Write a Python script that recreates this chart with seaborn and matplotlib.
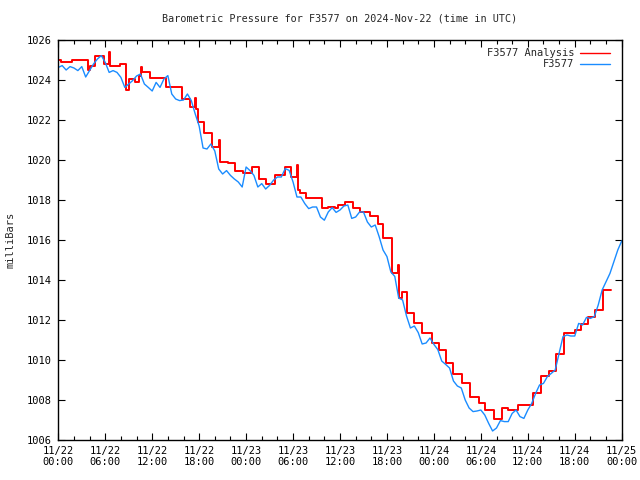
import matplotlib
matplotlib.use("Agg")
import matplotlib.pyplot as plt
import seaborn as sns
import pandas as pd
import numpy as np

# ---------------- data ----------------
title = "Barometric Pressure for F3577 on 2024-Nov-22 (time in UTC)"
ylabel = "milliBars"
obs_name = "F3577"
ana_name = "F3577 Analysis"

# observed pressure, every half hour from 11/22 00:00 (hours since start)
obs_hours = [h * 0.5 for h in range(145)]
obs_values = [
    1024.63, 1024.72, 1024.50, 1024.67, 1024.60, 1024.47, 1024.67, 1024.15, 1024.47, 1024.80,
    1025.05, 1025.22, 1024.88, 1024.38, 1024.47, 1024.38, 1024.13, 1023.63, 1023.80, 1023.97,
    1024.20, 1024.30, 1023.80, 1023.63, 1023.45, 1023.88, 1023.63, 1024.05, 1024.22, 1023.30,
    1023.05, 1022.97, 1023.00, 1023.30, 1022.97, 1022.30, 1021.70, 1020.60, 1020.55, 1020.80,
    1020.45, 1019.55, 1019.30, 1019.47, 1019.23, 1019.05, 1018.90, 1018.65, 1019.65, 1019.47,
    1019.23, 1018.65, 1018.82, 1018.55, 1018.73, 1018.99, 1019.15, 1019.15, 1019.57, 1019.48,
    1018.90, 1018.15, 1018.15, 1017.82, 1017.57, 1017.65, 1017.65, 1017.15, 1016.99, 1017.40,
    1017.62, 1017.38, 1017.50, 1017.70, 1017.75, 1017.08, 1017.15, 1017.40, 1017.40, 1016.90,
    1016.65, 1016.75, 1016.17, 1015.50, 1015.17, 1014.40, 1014.18, 1013.10, 1013.00, 1012.20,
    1011.60, 1011.70, 1011.37, 1010.80, 1010.85, 1011.10, 1010.78, 1010.52, 1009.95, 1009.78,
    1009.60, 1008.95, 1008.70, 1008.60, 1008.00, 1007.60, 1007.42, 1007.45, 1007.50, 1007.25,
    1006.83, 1006.45, 1006.60, 1006.97, 1006.92, 1006.92, 1007.33, 1007.50, 1007.17, 1007.08,
    1007.50, 1007.83, 1008.33, 1008.75, 1008.83, 1009.17, 1009.33, 1009.50, 1010.33, 1011.17,
    1011.25, 1011.20, 1011.20, 1011.83, 1011.75, 1012.13, 1012.08, 1012.17, 1012.75, 1013.50,
    1013.92, 1014.33, 1014.92, 1015.50, 1015.95,
]

# analysis (step series): hour at which each value starts
ana_hours = [
    0, 0.4, 1.7, 3.8, 4.0, 4.7, 5.8, 6.5, 6.6, 7.9, 8.7, 9.0, 9.8, 10.3, 10.6, 10.7,
    11.7, 13.7, 15.85, 16.8, 17.5, 17.6, 17.8, 18.6, 19.6, 20.6, 20.7, 21.7, 22.6, 23.6,
    24.8, 25.6, 26.6, 27.7, 28.95, 29.8, 30.5, 30.6, 30.9, 31.65, 33.65, 34.5, 35.4, 35.8,
    36.7, 37.7, 38.5, 39.8, 40.8, 41.5, 42.6, 43.4, 43.5, 43.9, 44.6, 45.5, 46.5, 47.7,
    48.6, 49.5, 50.5, 51.6, 52.6, 53.7, 54.5, 55.7, 56.7, 57.5, 58.8, 60.7, 61.7, 62.7,
    63.6, 64.6, 66.0, 66.8, 67.7, 68.6, 69.6, 70.6,
]
ana_values = [
    1025.00, 1024.90, 1025.00, 1024.50, 1024.72, 1025.22, 1024.80, 1025.39, 1024.68, 1024.80,
    1023.50, 1024.05, 1023.90, 1024.20, 1024.63, 1024.40, 1024.10, 1023.65, 1023.05, 1022.65,
    1023.10, 1022.55, 1021.92, 1021.33, 1020.63, 1021.00, 1019.92, 1019.87, 1019.47, 1019.37,
    1019.63, 1019.03, 1018.80, 1019.25, 1019.63, 1019.13, 1019.75, 1018.50, 1018.33, 1018.08,
    1017.58, 1017.65, 1017.58, 1017.75, 1017.92, 1017.58, 1017.42, 1017.20, 1016.80, 1016.08,
    1014.33, 1014.75, 1013.08, 1013.42, 1012.33, 1011.83, 1011.37, 1010.83, 1010.50, 1009.83,
    1009.30, 1008.87, 1008.13, 1007.83, 1007.50, 1007.03, 1007.58, 1007.50, 1007.75, 1008.37,
    1009.22, 1009.47, 1010.28, 1011.33, 1011.50, 1011.78, 1012.13, 1012.50, 1013.50, 1013.50,
]

xtick_hours = [0, 6, 12, 18, 24, 30, 36, 42, 48, 54, 60, 66, 72]
xtick_labels = ["11/22\n00:00", "11/22\n06:00", "11/22\n12:00", "11/22\n18:00",
                "11/23\n00:00", "11/23\n06:00", "11/23\n12:00", "11/23\n18:00",
                "11/24\n00:00", "11/24\n06:00", "11/24\n12:00", "11/24\n18:00",
                "11/25\n00:00"]
yticks = [1006, 1008, 1010, 1012, 1014, 1016, 1018, 1020, 1022, 1024, 1026]

# ---------------- plot ----------------
sns.set_style("ticks")
plt.rcParams["font.family"] = ["DejaVu Sans Mono"]
plt.rcParams["font.size"] = 7.5

fig = plt.figure(figsize=(6.4, 4.8), dpi=100)
ax = fig.add_axes([58.3 / 640, 40 / 480, (621.7 - 58.3) / 640, 400 / 480])

ana_df = pd.DataFrame({"hour": ana_hours, "p": ana_values})
obs_df = pd.DataFrame({"hour": obs_hours, "p": obs_values})

sns.lineplot(data=ana_df, x="hour", y="p", ax=ax, color="#ff0000", lw=1.4,
             drawstyle="steps-post", estimator=None, sort=False, label=ana_name)
sns.lineplot(data=obs_df, x="hour", y="p", ax=ax, color="#1a8cff", lw=1.0,
             estimator=None, sort=False, label=obs_name)

ax.set_xlim(0, 72)
ax.set_ylim(1006, 1026)
ax.set_xticks(xtick_hours)
ax.set_xticklabels(xtick_labels)
ax.set_xticks(np.arange(0, 73, 2), minor=True)
ax.set_yticks(yticks)
ax.set_yticklabels([str(v) for v in yticks])

ax.tick_params(which="both", direction="in", top=True, right=True, width=0.8,
               labelsize=7.5, colors="black")
ax.tick_params(which="major", length=5, pad=4)
ax.tick_params(which="minor", length=3)
ax.tick_params(axis="y", pad=5)
for s in ax.spines.values():
    s.set_linewidth(1.0)
    s.set_color("black")

ax.set_xlabel("")
ax.set_ylabel(ylabel, fontsize=7.5, labelpad=8)
ax.text(0.5, 1 + 21 / 400, title, transform=ax.transAxes,
        ha="center", va="center", fontsize=7.3)

leg = ax.legend(loc="upper right", bbox_to_anchor=(1 - 8 / 563.4, 1 - 4 / 400),
                frameon=False, markerfirst=False, fontsize=7.5,
                handlelength=2.8, handletextpad=0.6, borderaxespad=0.0,
                labelspacing=0.1)
for line in leg.get_lines():
    line.set_linewidth(1.0)

fig.savefig("out.png", dpi=100)
